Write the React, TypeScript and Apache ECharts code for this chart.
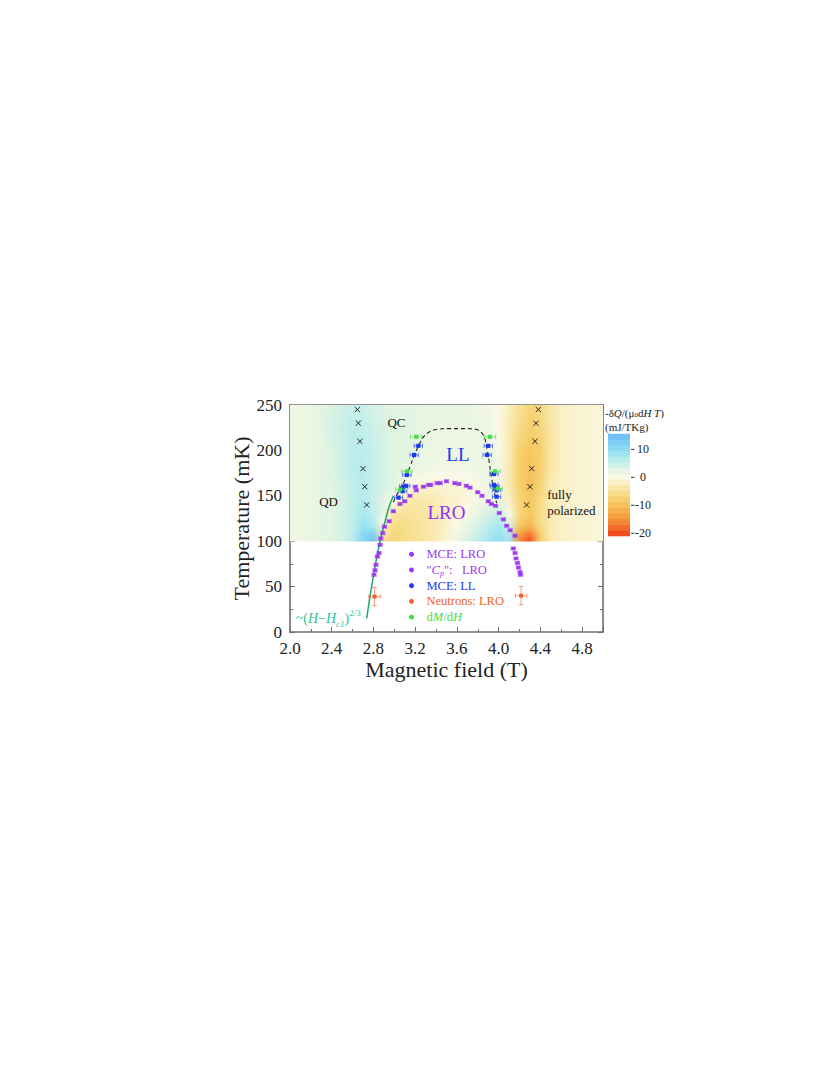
import React, { useEffect, useRef } from 'react';
import * as echarts from 'echarts';

const FONT = '"Liberation Serif", "Times New Roman", serif';

// ---------- heat map (−δQ/(μ0 dH T), mJ/TKg) ----------
const fieldT = [2.0, 2.1, 2.2, 2.3, 2.4, 2.5, 2.6, 2.7, 2.8, 2.9, 3.0, 3.1, 3.2, 3.3, 3.4, 3.5, 3.6, 3.7, 3.8, 3.9, 4.0, 4.1, 4.2, 4.3, 4.4, 4.5, 4.6, 4.7, 4.8, 4.9, 5.0];
const levelsMK = [100, 108, 118, 130, 145, 160, 180, 200, 225, 250];
const heat100 = [1.5, 1.5, 2, 2.5, 3, 4, 6, 11, 14, -6, -7, -6, -5, -4, -3, -1, 2, 4, 6, 8, 10, 9, -16, -20, -8, -3, -2, -1.5, -1, -1, -0.5];
const heat108 = [1.5, 1.5, 2, 2.5, 3, 4, 6, 11, 12, -4, -7, -6, -5, -4, -3, -1.5, 1, 3, 5, 7, 9, 7, -14, -17, -8, -3, -2, -1.5, -1, -1, -0.5];
const heat118 = [1.5, 1.5, 2, 2.5, 3, 4, 5.5, 9, 7, -2, -6, -6, -5, -4, -3, -1.5, 0, 2, 4, 6, 8, 4, -9, -11, -6, -3, -2, -1.5, -1, -1, -0.5];
const heat130 = [1.5, 1.5, 2, 2.5, 3, 4, 5.5, 7.5, 6, 2, -4, -5, -4.5, -4, -3, -2, -1, 0.5, 2.5, 4, 5, 0, -7, -9, -6, -3, -2, -1.5, -1, -1, -0.5];
const heat145 = [1.5, 1.5, 2, 2.5, 3, 4, 5.5, 7, 5, 3, 0, -3, -4, -3.5, -3, -2, -1.5, -0.5, 1, 2, 2, -2, -7, -9, -6, -3, -2, -1.5, -1, -1, -0.5];
const heat160 = [1.5, 1.5, 2, 2.5, 3, 4.5, 5.5, 6.5, 5, 4, 3, 1, -1, -1.5, -1.5, -1, -1, -0.5, 0.5, 1.5, 1, -3, -8, -10, -7, -3, -2, -1.5, -1, -1, -0.5];
const heat180 = [1.5, 1.5, 2, 2.5, 3.5, 4.5, 6, 6.5, 5, 4, 3, 2.5, 2, 1.5, 1, 1, 1, 1, 1.5, 2, 1, -3, -8, -10, -8, -4, -2, -1.5, -1, -1, -0.5];
const heat200 = [1.5, 1.5, 2, 2.5, 3.5, 4.5, 6, 6, 5, 4, 3, 3, 2.5, 2, 1.5, 1.5, 1.5, 1.5, 1.5, 2, 0.5, -3, -8, -9, -8, -4, -2, -1.5, -1, -1, -0.5];
const heat225 = [1.5, 1.5, 2, 3, 4, 5, 6, 5.5, 4.5, 4, 3, 3, 2.5, 2, 2, 2, 2, 2, 2, 1.5, 0, -3, -6, -8, -7, -4, -2, -1.5, -1, -1, -0.5];
const heat250 = [1.5, 1.5, 2, 3, 3.5, 4.5, 5, 5, 4, 3.5, 3, 3, 2.5, 2, 2, 2, 2, 2, 1.5, 1, 0, -2.5, -5, -7, -6.5, -4, -2, -1.5, -1, -1, -0.5];
const heatRows = [heat100, heat108, heat118, heat130, heat145, heat160, heat180, heat200, heat225, heat250];

// ---------- points: [field T, temperature mK, x error, y error] ----------
const mceLRO = [
  [2.805, 63, 0.02], [2.815, 68, 0.02], [2.824, 74, 0.02], [2.837, 83, 0.02], [2.853, 87, 0.02], [2.863, 96, 0.02],
  [2.87, 103, 0.02], [2.89, 109, 0.02], [2.905, 116, 0.02], [2.95, 122, 0.02], [2.99, 133, 0.02], [3.054, 141, 0.02],
  [3.10, 144, 0.02], [3.15, 150, 0.02], [3.21, 156, 0.02],
  [4.14, 92, 0.02], [4.157, 87, 0.02], [4.166, 81, 0.02], [4.18, 76, 0.02], [4.19, 71, 0.02], [4.205, 66, 0.02], [4.21, 63, 0.02],
  [4.157, 106, 0.02], [4.11, 112, 0.02], [4.077, 117, 0.02], [4.045, 124, 0.02], [4.006, 131, 0.02], [3.97, 139, 0.02],
  [3.93, 141, 0.02], [3.90, 144, 0.02], [3.84, 150, 0.02], [3.80, 154, 0.02],
];
const cpLRO = [
  [3.20, 160, 0.02], [3.28, 160, 0.02], [3.33, 162, 0.02], [3.35, 162, 0.02], [3.41, 164, 0.02], [3.44, 164, 0.02],
  [3.50, 166, 0.02], [3.58, 164, 0.02], [3.62, 163, 0.02], [3.69, 161, 0.02], [3.725, 159, 0.02],
];
const mceLL = [
  [3.04, 148, 0.04], [3.08, 155, 0.04], [3.09, 160, 0.04], [3.11, 161, 0.04], [3.12, 173, 0.04], [3.19, 195, 0.04], [3.23, 205, 0.04],
  [3.90, 205, 0.04], [3.89, 195, 0.04], [3.955, 174, 0.04], [3.955, 162, 0.04], [3.965, 160, 0.04], [3.98, 156, 0.04], [3.98, 149, 0.04],
];
const neutronsLRO = [[2.81, 39, 0.055, 10], [4.215, 40, 0.055, 10]];
const dMdH = [[3.21, 215, 0.055], [3.12, 177, 0.05], [3.055, 157, 0.045], [3.917, 215, 0.055], [3.965, 177, 0.05], [3.99, 158, 0.045]];
const crossPoints = [
  [2.645, 245], [2.655, 230], [2.67, 210], [2.70, 180], [2.716, 160], [2.735, 140],
  [4.38, 245], [4.358, 230], [4.348, 210], [4.317, 180], [4.30, 160], [4.268, 140],
];
const llBoundary = [
  [2.99, 143], [3.05, 157], [3.10, 167], [3.15, 182], [3.20, 197], [3.245, 208], [3.28, 215], [3.33, 220], [3.40, 223],
  [3.53, 224], [3.69, 224], [3.79, 223], [3.84, 219], [3.87, 212], [3.89, 200], [3.91, 187], [3.93, 171], [3.955, 156], [3.98, 142],
];
const fitCurve = [[2.735, 15], [2.767, 39], [2.805, 65], [2.856, 96], [2.94, 134], [2.99, 150]];

const yTicksCbar = [10, 0, -10, -20];

// ---------- colour map ----------
const cStops: [number, string][] = [
  [-21, '#ee3c1c'], [-18, '#f26a28'], [-15, '#f49438'], [-12, '#f5b04a'], [-9, '#f6c860'], [-6, '#f7dc88'],
  [-3, '#f9ebb4'], [0, '#fbf9e6'], [3, '#e2f4e2'], [6, '#bcedec'], [9, '#99e2f2'], [12, '#80d0f4'], [15.5, '#6cbaf4'],
];
function hex(c: string) { return [parseInt(c.slice(1, 3), 16), parseInt(c.slice(3, 5), 16), parseInt(c.slice(5, 7), 16)]; }
function colorOf(v: number) {
  if (v <= cStops[0][0]) return cStops[0][1];
  if (v >= cStops[cStops.length - 1][0]) return cStops[cStops.length - 1][1];
  for (let i = 0; i < cStops.length - 1; i++) {
    const [a, ca] = cStops[i];
    const [b, cb] = cStops[i + 1];
    if (v >= a && v <= b) {
      const f = (v - a) / (b - a);
      const A = hex(ca), B = hex(cb);
      const m = A.map((x, k) => Math.round(x + (B[k] - x) * f));
      return `rgb(${m[0]},${m[1]},${m[2]})`;
    }
  }
  return '#ffffff';
}

const PURPLE = '#9b38f0';
const BLUE = '#1838f2';
const GREEN = '#3fe03f';
const ORANGE = '#f2622c';
const AXIS = '#6e6e6e';
const TEAL = '#2fc394';

function errRender(color: string, r: number) {
  return (params: any, api: any) => {
    const x = api.value(0), y = api.value(1), xe = api.value(2), ye = api.value(3);
    const c = api.coord([x, y]);
    const l = api.coord([x - xe, y]);
    const rr = api.coord([x + xe, y]);
    const cap = 2.3;
    const st = { stroke: color, lineWidth: 0.8, opacity: 0.8 };
    const ch: any[] = [
      { type: 'line', shape: { x1: l[0], y1: c[1], x2: rr[0], y2: c[1] }, style: st },
      { type: 'line', shape: { x1: l[0], y1: c[1] - cap, x2: l[0], y2: c[1] + cap }, style: st },
      { type: 'line', shape: { x1: rr[0], y1: c[1] - cap, x2: rr[0], y2: c[1] + cap }, style: st },
    ];
    if (ye > 0) {
      const t = api.coord([x, y + ye]);
      const b = api.coord([x, y - ye]);
      ch.push({ type: 'line', shape: { x1: c[0], y1: t[1], x2: c[0], y2: b[1] }, style: st });
      ch.push({ type: 'line', shape: { x1: c[0] - cap, y1: t[1], x2: c[0] + cap, y2: t[1] }, style: st });
      ch.push({ type: 'line', shape: { x1: c[0] - cap, y1: b[1], x2: c[0] + cap, y2: b[1] }, style: st });
    }
    ch.push({ type: 'rect', shape: { x: c[0] - r, y: c[1] - r, width: 2 * r, height: 2 * r }, style: { fill: color } });
    return { type: 'group', children: ch };
  };
}

function heatRender(params: any, api: any) {
  const j = params.dataIndex;
  const a = heatRows[j], b = heatRows[j + 1];
  const t0 = fieldT[0], t1 = fieldT[fieldT.length - 1];
  const pL = api.coord([t0, levelsMK[j]]);
  const pR = api.coord([t1, levelsMK[j + 1]]);
  const sub = 8;
  const children: any[] = [];
  for (let s = 0; s < sub; s++) {
    const f0 = s / sub, f1 = (s + 1) / sub, fm = (s + 0.5) / sub;
    const ya = pL[1] + (pR[1] - pL[1]) * f0;
    const yb = pL[1] + (pR[1] - pL[1]) * f1;
    const stops = fieldT.map((t, i) => ({ offset: (t - t0) / (t1 - t0), color: colorOf(a[i] * (1 - fm) + b[i] * fm) }));
    children.push({
      type: 'rect',
      shape: { x: pL[0], y: yb - 0.4, width: pR[0] - pL[0], height: ya - yb + 0.8 },
      style: { fill: new echarts.graphic.LinearGradient(0, 0, 1, 0, stops) },
      silent: true,
    });
  }
  return { type: 'group', children };
}

function crossRender(params: any, api: any) {
  const c = api.coord([api.value(0), api.value(1)]);
  const d = 2.6;
  const st = { stroke: '#222', lineWidth: 1 };
  return {
    type: 'group',
    children: [
      { type: 'line', shape: { x1: c[0] - d, y1: c[1] - d, x2: c[0] + d, y2: c[1] + d }, style: st },
      { type: 'line', shape: { x1: c[0] - d, y1: c[1] + d, x2: c[0] + d, y2: c[1] - d }, style: st },
    ],
  };
}

function buildColorbar() {
  const x = 608, y = 434, w = 22, h = 102, vmin = -21, vmax = 15.5, n = 18;
  const els: any[] = [];
  for (let i = 0; i < n; i++) {
    const v = vmin + (vmax - vmin) * (i + 0.5) / n;
    const yb = y + h - (h * i) / n;
    const yt = y + h - (h * (i + 1)) / n;
    els.push({ type: 'rect', shape: { x, y: yt - 0.3, width: w, height: yb - yt + 0.6 }, style: { fill: colorOf(v) }, silent: true });
  }
  yTicksCbar.forEach((v) => {
    const yy = y + h - ((v - vmin) / (vmax - vmin)) * h;
    els.push({ type: 'line', shape: { x1: 631, y1: yy, x2: 634.5, y2: yy }, style: { stroke: '#333', lineWidth: 1 } });
    els.push({ type: 'text', x: 643, y: yy, style: { text: String(v), fontFamily: FONT, fontSize: 12, fill: '#222', align: 'center', verticalAlign: 'middle' } });
  });
  els.push({
    type: 'text', x: 605, y: 413, z: 10,
    style: {
      text: '-δ{i|Q}/(μ{s|0}d{i|H }{i|T})', fontFamily: FONT, fontSize: 11, fill: '#222', align: 'left', verticalAlign: 'middle',
      rich: { i: { fontStyle: 'italic', fontFamily: FONT, fontSize: 11, fill: '#222' }, s: { fontFamily: FONT, fontSize: 7, fill: '#222', verticalAlign: 'bottom', lineHeight: 8 } },
    },
  });
  els.push({ type: 'text', x: 605, y: 427, style: { text: '(mJ/TKg)', fontFamily: FONT, fontSize: 11, fill: '#222', align: 'left', verticalAlign: 'middle' } });
  return els;
}

const legendNames = ['MCE: LRO', 'Cp: LRO', 'MCE: LL', 'Neutrons: LRO', 'dM/dH'];
const legendColors = [PURPLE, PURPLE, BLUE, ORANGE, GREEN];

export default function App() {
  const ref = useRef<HTMLDivElement>(null);
  useEffect(() => {
    if (!ref.current) return;
    const chart = echarts.init(ref.current, null, { renderer: 'svg' });
    const axisCommon = {
      min: 2, max: 5, interval: 0.4, type: 'value' as const,
      axisLine: { show: true, onZero: false, lineStyle: { color: AXIS, width: 1.6 } },
      axisTick: { show: true, inside: true, length: 5, lineStyle: { color: AXIS, width: 1 } },
      minorTick: { show: true, splitNumber: 2, length: 3, lineStyle: { color: AXIS, width: 1 } },
      splitLine: { show: false },
    };
    const yCommon = {
      min: 0, max: 250, interval: 50, type: 'value' as const,
      axisLine: { show: true, onZero: false, lineStyle: { color: AXIS, width: 1.6 } },
      axisTick: { show: true, inside: true, length: 5, lineStyle: { color: AXIS, width: 1 } },
      minorTick: { show: true, splitNumber: 2, length: 3, lineStyle: { color: AXIS, width: 1 } },
      splitLine: { show: false },
    };
    const option: any = {
      animation: false,
      backgroundColor: '#ffffff',
      grid: { left: 290, top: 405, width: 313, height: 227, containLabel: false },
      xAxis: [
        {
          ...axisCommon, position: 'bottom',
          axisLabel: { show: true, fontFamily: FONT, fontSize: 17, color: '#222', margin: 8, showMaxLabel: false, formatter: (v: number) => v.toFixed(1) },
          name: 'Magnetic field (T)', nameLocation: 'middle', nameGap: 26,
          nameTextStyle: { fontFamily: FONT, fontSize: 22, color: '#222' },
        },
        { ...axisCommon, position: 'top', axisLabel: { show: false } },
      ],
      yAxis: [
        {
          ...yCommon, position: 'left',
          axisLabel: { show: true, fontFamily: FONT, fontSize: 17, color: '#222', margin: 8 },
          name: 'Temperature (mK)', nameLocation: 'middle', nameGap: 38,
          nameTextStyle: { fontFamily: FONT, fontSize: 22, color: '#222' },
        },
        { ...yCommon, position: 'right', axisLabel: { show: false } },
      ],
      legend: {
        orient: 'vertical', left: 404, top: 542, itemWidth: 20, itemHeight: 5, itemGap: 1.2,
        symbolKeepAspect: true, selectedMode: false,
        data: legendNames.map((n, i) => ({ name: n, icon: 'circle', itemStyle: { color: legendColors[i] }, textStyle: { color: legendColors[i] } })),
        formatter: (name: string) => {
          if (name === 'Cp: LRO') return '"{pi|C}{ps|p}":   LRO';
          if (name === 'dM/dH') return 'd{gi|M}/d{gi|H}';
          return name;
        },
        textStyle: {
          fontFamily: FONT, fontSize: 12.5, lineHeight: 14.5,
          rich: {
            pi: { fontFamily: FONT, fontSize: 12.5, fontStyle: 'italic', color: PURPLE, lineHeight: 14.5 },
            ps: { fontFamily: FONT, fontSize: 8, fontStyle: 'italic', color: PURPLE, verticalAlign: 'bottom', lineHeight: 8 },
            gi: { fontFamily: FONT, fontSize: 12.5, fontStyle: 'italic', color: GREEN, lineHeight: 14.5 },
          },
        },
      },
      graphic: buildColorbar(),
      series: [
        {
          type: 'custom', name: 'heat', renderItem: heatRender, clip: true, silent: true, z: 1,
          data: levelsMK.slice(0, -1).map((lv) => [fieldT[0], lv]),
        },
        {
          type: 'line', name: 'fit', data: fitCurve, smooth: true, showSymbol: false, symbol: 'none', z: 3,
          lineStyle: { color: '#1fa673', width: 1.5 }, silent: true,
        },
        {
          type: 'line', name: 'LL boundary', data: llBoundary, smooth: 0.4, showSymbol: false, symbol: 'none', z: 3,
          lineStyle: { color: '#222', width: 1.1, type: [4, 3] }, silent: true,
        },
        { type: 'custom', name: 'crossover', renderItem: crossRender, data: crossPoints, z: 4, silent: true },
        { type: 'custom', name: 'MCE: LRO', renderItem: errRender(PURPLE, 1.8), data: mceLRO, itemStyle: { color: PURPLE }, z: 5, encode: { x: 0, y: 1 } },
        { type: 'custom', name: 'Cp: LRO', renderItem: errRender(PURPLE, 1.8), data: cpLRO, itemStyle: { color: PURPLE }, z: 5, encode: { x: 0, y: 1 } },
        { type: 'custom', name: 'MCE: LL', renderItem: errRender(BLUE, 2.1), data: mceLL, itemStyle: { color: BLUE }, z: 5, encode: { x: 0, y: 1 } },
        { type: 'custom', name: 'Neutrons: LRO', renderItem: errRender(ORANGE, 2), data: neutronsLRO, itemStyle: { color: ORANGE }, z: 5, encode: { x: 0, y: 1 } },
        { type: 'custom', name: 'dM/dH', renderItem: errRender(GREEN, 2), data: dMdH, itemStyle: { color: GREEN }, z: 6, encode: { x: 0, y: 1 } },
        {
          type: 'scatter', name: 'notes', symbolSize: 1, itemStyle: { color: 'rgba(0,0,0,0)', opacity: 1 }, z: 7, silent: true,
          label: { show: true, position: 'inside', fontFamily: FONT, color: '#111', fontSize: 13, opacity: 1, formatter: (p: any) => p.data.text },
          labelLayout: { hideOverlap: false },
          data: [
            { value: [2.37, 143.5], text: 'QD' },
            { value: [3.02, 230.5], text: 'QC' },
            { value: [3.61, 195], text: 'LL', label: { fontSize: 19, color: '#1a3af0' } },
            { value: [3.50, 132], text: 'LRO', label: { fontSize: 19, color: '#9030ee' } },
            { value: [4.465, 142.5], text: 'fully\npolarized', label: { align: 'left', lineHeight: 16 } },
            {
              value: [2.055, 15], text: '~({i|H}−{i|H}{s|c1}){u|2/3}',
              label: {
                align: 'left', fontSize: 14, color: TEAL, lineHeight: 20,
                rich: {
                  i: { fontFamily: FONT, fontSize: 14, fontStyle: 'italic', color: TEAL },
                  s: { fontFamily: FONT, fontSize: 9, fontStyle: 'italic', color: TEAL, verticalAlign: 'bottom', lineHeight: 10 },
                  u: { fontFamily: FONT, fontSize: 9, color: TEAL, verticalAlign: 'top', lineHeight: 10 },
                },
              },
            },
          ],
        },
      ],
    };
    chart.setOption(option);
    return () => chart.dispose();
  }, []);
  return <div ref={ref} style={{ position: 'absolute', left: 0, top: 0, width: 830, height: 1075 }} />;
}
